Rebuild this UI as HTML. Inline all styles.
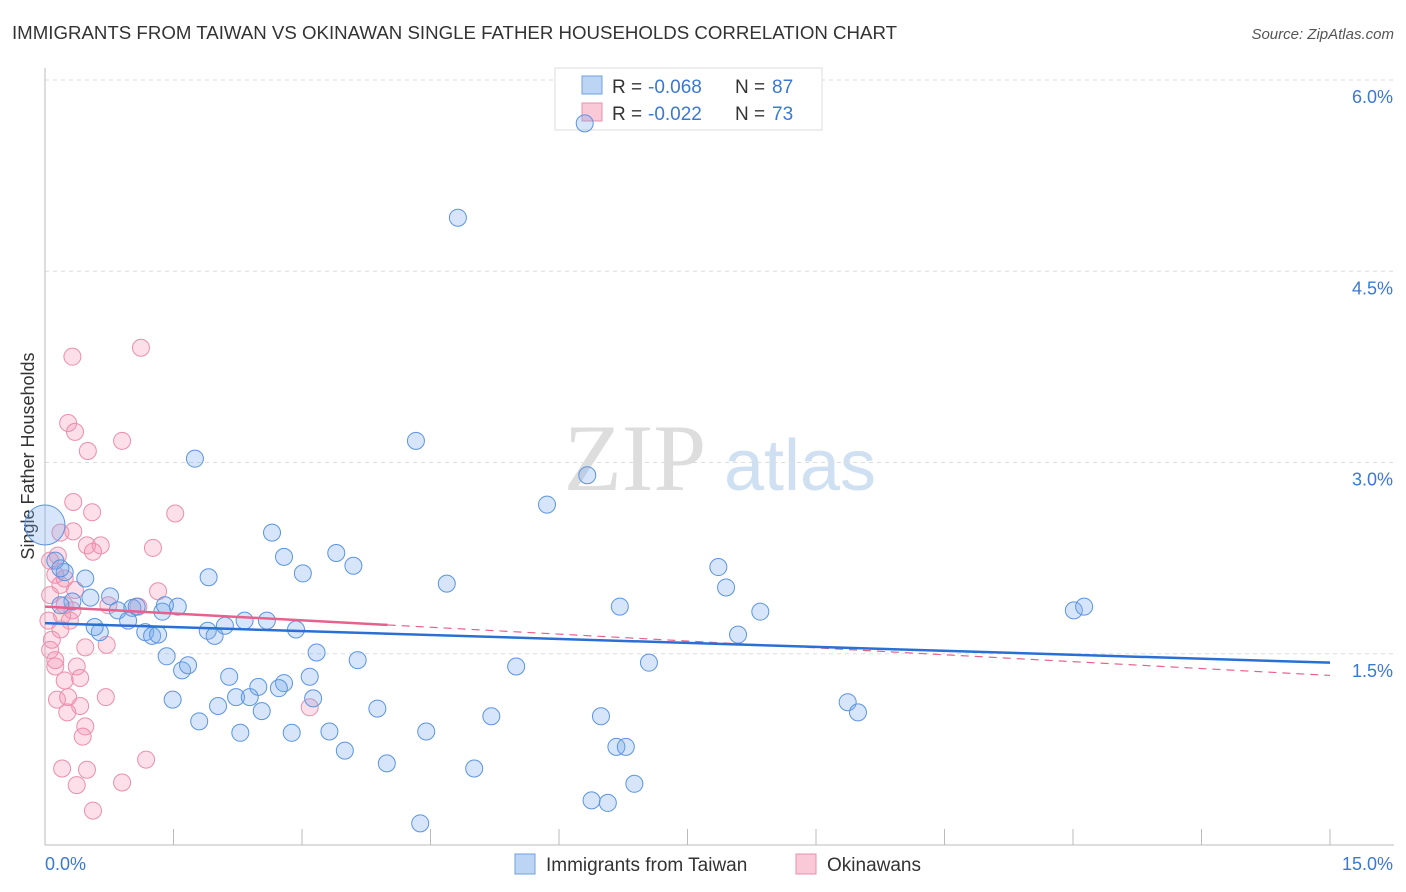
<!DOCTYPE html>
<html><head><meta charset="utf-8"><style>
body{margin:0;background:#fff;font-family:"Liberation Sans",sans-serif;}
svg{display:block}
</style></head><body>
<svg id="chart" width="1406" height="892">
<text x="12" y="39" font-size="18" fill="#333" textLength="885" lengthAdjust="spacingAndGlyphs">IMMIGRANTS FROM TAIWAN VS OKINAWAN SINGLE FATHER HOUSEHOLDS CORRELATION CHART</text>
<text x="1394" y="39" font-size="15" fill="#555" text-anchor="end" font-style="italic">Source: ZipAtlas.com</text>
<text x="34" y="456" font-size="18" fill="#333" text-anchor="middle" transform="rotate(-90 34 456)">Single Father Households</text>
<g><text x="635" y="490" font-size="95" fill="#ddd" font-family="Liberation Serif" text-anchor="middle">ZIP</text><text x="800" y="490" font-size="72" fill="#cfe0f3" text-anchor="middle">atlas</text></g>
<g id="grid"></g><g id="axes"></g>
<g>
<rect x="555" y="68" width="267" height="62" fill="#fff" stroke="#ddd"/>
<rect x="582" y="76" width="20" height="18" fill="#bcd5f5" stroke="#6fa0e0"/>
<rect x="582" y="103" width="20" height="18" fill="#f9c9d8" stroke="#e890ac"/>
<text x="612" y="93" font-size="19" fill="#333">R =</text>
<text x="648" y="93" font-size="19" fill="#3a78d6">-0.068</text>
<text x="735" y="93" font-size="19" fill="#333">N =</text>
<text x="772" y="93" font-size="19" fill="#3a78d6">87</text>
<text x="612" y="120" font-size="19" fill="#333">R =</text>
<text x="648" y="120" font-size="19" fill="#3a78d6">-0.022</text>
<text x="735" y="120" font-size="19" fill="#333">N =</text>
<text x="772" y="120" font-size="19" fill="#3a78d6">73</text>
</g>
<g id="pts"></g><g id="trend"></g>
<g>
<rect x="515" y="854" width="20" height="20" fill="#bcd5f5" stroke="#6fa0e0"/>
<text x="546" y="871" font-size="19" fill="#333">Immigrants from Taiwan</text>
<rect x="796" y="854" width="20" height="20" fill="#f9c9d8" stroke="#e890ac"/>
<text x="827" y="871" font-size="19" fill="#333">Okinawans</text>
</g>
</svg>
<script>
const yTicks=[1.5,3.0,4.5,6.0];
const yTickLabels=["1.5%","3.0%","4.5%","6.0%"];
const xTickLabels=["0.0%","15.0%"];
const taiwanX=[6.30,4.82,4.33,1.75,6.33,5.86,2.65,2.79,3.40,3.60,3.01,1.91,4.69,7.86,7.95,6.71,8.35,12.01,12.13,0.47,0.23,0.76,0.53,0.32,0.18,0.85,1.02,0.97,1.07,1.37,1.55,1.40,1.17,1.25,1.32,1.90,1.98,2.10,2.33,2.59,2.93,0.64,0.58,8.09,3.17,3.65,1.42,1.60,1.67,5.50,7.05,2.15,3.09,2.79,2.49,2.73,2.23,2.39,2.53,3.13,1.49,2.02,3.88,5.21,6.49,9.37,9.49,1.80,2.28,2.88,3.32,4.45,3.50,6.67,6.78,3.99,5.01,6.38,6.57,6.88,4.38,0.12,0.18];
const taiwanY=[5.66,4.92,3.17,3.03,2.90,2.67,2.45,2.26,2.29,2.19,2.13,2.10,2.05,2.18,2.02,1.87,1.83,1.84,1.87,2.09,2.14,1.95,1.94,1.91,1.88,1.84,1.86,1.76,1.87,1.83,1.87,1.88,1.67,1.64,1.65,1.68,1.64,1.72,1.76,1.76,1.69,1.67,1.71,1.65,1.51,1.45,1.48,1.37,1.41,1.40,1.43,1.32,1.32,1.27,1.24,1.23,1.16,1.16,1.05,1.15,1.14,1.09,1.07,1.01,1.01,1.12,1.04,0.97,0.88,0.88,0.89,0.89,0.74,0.77,0.77,0.64,0.60,0.35,0.33,0.48,0.17,2.23,2.17];
const okiX=[0.32,1.12,0.27,0.35,0.50,0.90,0.33,0.55,1.52,0.18,0.33,0.49,0.65,0.56,1.26,1.32,0.74,1.09,0.72,0.47,0.12,0.23,0.37,0.41,0.14,0.27,0.41,0.26,0.71,0.47,0.44,0.20,0.49,0.37,0.90,1.18,0.56,3.09,0.06,0.12,0.18,0.06,0.23,0.04,0.29,0.18,0.08,0.35,0.23,0.15,0.06,0.12,0.32,0.20];
const okiY=[3.83,3.90,3.31,3.24,3.09,3.17,2.69,2.61,2.60,2.45,2.46,2.35,2.35,2.30,2.33,1.99,1.88,1.87,1.57,1.55,1.40,1.29,1.40,1.31,1.14,1.16,1.09,1.04,1.16,0.93,0.85,0.60,0.59,0.47,0.49,0.67,0.27,1.08,2.23,2.12,2.04,1.96,1.88,1.76,1.76,1.69,1.61,2.00,2.09,2.27,1.53,1.45,1.84,1.80];
const taiwanTrend=[1.74,1.43];
const okiTrend=[1.87,1.33];
const NS="http://www.w3.org/2000/svg";
const X=v=>45+v*(1285/15);
const Y=v=>845-v*(765/6);
function mk(tag,attrs,parent){const e=document.createElementNS(NS,tag);for(const k in attrs)e.setAttribute(k,attrs[k]);parent.appendChild(e);return e;}
const grid=document.getElementById('grid'),axes=document.getElementById('axes'),pts=document.getElementById('pts'),tr=document.getElementById('trend');
yTicks.forEach((t,i)=>{
 const l=mk('line',{x1:45,x2:1394,y1:Y(t),y2:Y(t),stroke:'#ddd','stroke-dasharray':'4,4'},grid);
 
 
 const tx=mk('text',{x:1393,y:Y(t)+23,'font-size':18,fill:'#3a78d6','text-anchor':'end'},axes);
 tx.textContent=yTickLabels[i];
 
 
});
const ax=mk('line',{x1:45,x2:1394,y1:845,y2:845,stroke:'#bbb'},axes);


const ay=mk('line',{x1:45,x2:45,y1:68,y2:845,stroke:'#bbb'},axes);


for(let i=1;i<=10;i++){const t=mk('line',{x1:X(i*1.5),x2:X(i*1.5),y1:829,y2:845,stroke:'#bbb'},axes);
 
 }
const xl0=mk('text',{x:45,y:870,'font-size':18,fill:'#3a78d6'},axes);xl0.textContent=xTickLabels[0];


const xl1=mk('text',{x:1393,y:870,'font-size':18,fill:'#3a78d6','text-anchor':'end'},axes);xl1.textContent=xTickLabels[1];


okiX.forEach((v,i)=>{const c=mk('circle',{cx:X(v),cy:Y(okiY[i]),r:8.5,fill:'rgba(244,150,180,0.3)',stroke:'#ea8fae','stroke-width':1},pts);
 
 });
taiwanX.forEach((v,i)=>{const c=mk('circle',{cx:X(v),cy:Y(taiwanY[i]),r:8.5,fill:'rgba(120,170,235,0.3)',stroke:'#5c95e0','stroke-width':1},pts);
 
 });
const big=mk('circle',{cx:X(0),cy:Y(2.51),r:20,fill:'rgba(120,170,235,0.3)',stroke:'#5c95e0'},pts);


const ok=t=>okiTrend[0]+(okiTrend[1]-okiTrend[0])*t/15;
const l1=mk('line',{x1:X(0),y1:Y(ok(0)),x2:X(4),y2:Y(ok(4)),stroke:'#e8608c','stroke-width':2.5},tr);


const l2=mk('line',{x1:X(4),y1:Y(ok(4)),x2:X(15),y2:Y(ok(15)),stroke:'#e8608c','stroke-width':1.2,'stroke-dasharray':'8,6'},tr);


const l3=mk('line',{x1:X(0),y1:Y(taiwanTrend[0]),x2:X(15),y2:Y(taiwanTrend[1]),stroke:'#2a6fd6','stroke-width':2.5},tr);


</script>
</body></html>
